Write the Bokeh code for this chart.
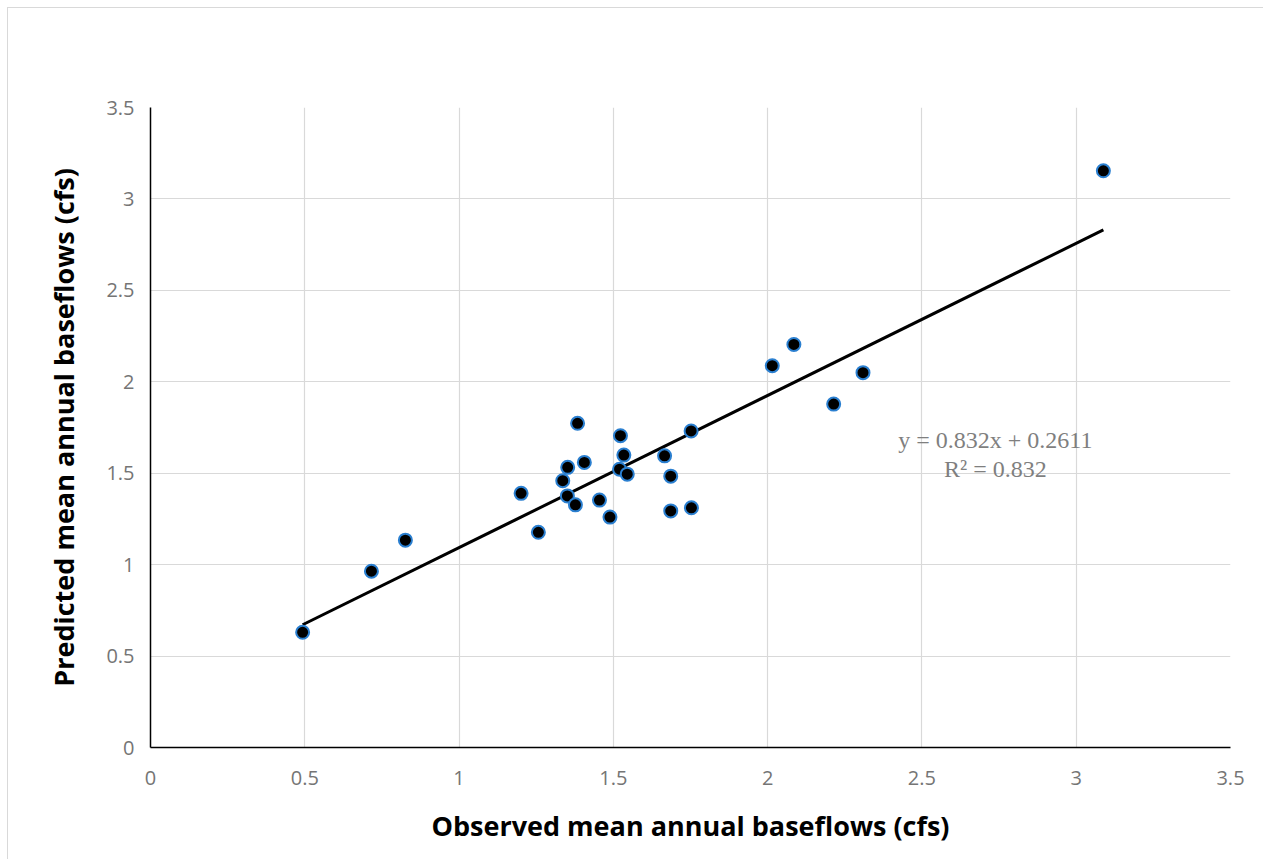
from bokeh.plotting import figure
from bokeh.models import Label, FixedTicker
from bokeh.embed import file_html
from bokeh.resources import INLINE

# Data
observed = [0.493, 0.716, 0.826, 1.201, 1.257, 1.384, 1.523, 1.534, 1.666, 1.752,
            1.352, 1.406, 1.336, 1.520, 1.545, 1.686, 1.351, 1.377, 1.455, 1.489,
            1.686, 1.753, 2.015, 2.085, 2.214, 2.309, 3.088]
predicted = [0.630, 0.964, 1.134, 1.390, 1.177, 1.773, 1.705, 1.599, 1.595, 1.731,
             1.532, 1.559, 1.459, 1.522, 1.495, 1.484, 1.376, 1.327, 1.353, 1.260,
             1.294, 1.311, 2.088, 2.204, 1.878, 2.050, 3.154]
slope = 0.832
intercept = 0.2611
r2 = 0.832
ticks = [0, 0.5, 1, 1.5, 2, 2.5, 3, 3.5]
tick_labels = ["0", "0.5", "1", "1.5", "2", "2.5", "3", "3.5"]

W, H = 1256, 852
p = figure(width=W, height=H, x_range=(0, 3.5), y_range=(0, 3.5),
           output_backend="svg", toolbar_location=None,
           min_border_left=142, min_border_right=34, min_border_top=99, min_border_bottom=113)
p.styles = {"margin-left": "7px", "margin-top": "7px",
            "border-left": "1px solid #d9d9d9", "border-top": "1px solid #d9d9d9"}
p.outline_line_color = None
p.background_fill_color = "white"
p.border_fill_color = "white"

for ax, lab in ((p.xaxis[0], "Observed mean annual baseflows (cfs)"),
                (p.yaxis[0], "Predicted mean annual baseflows (cfs)")):
    ax.ticker = FixedTicker(ticks=ticks)
    ax.major_label_overrides = {t: l for t, l in zip(ticks, tick_labels)}
    ax.major_tick_line_color = None
    ax.minor_tick_line_color = None
    ax.axis_line_color = "black"
    ax.axis_line_width = 1.5
    ax.major_label_text_font = "Open Sans"
    ax.major_label_text_font_size = "20px"
    ax.major_label_text_color = "#757575"
    ax.axis_label = lab
    ax.axis_label_text_font = "Open Sans"
    ax.axis_label_text_font_style = "bold"
    ax.axis_label_text_font_size = "27px"
    ax.axis_label_text_color = "black"

p.xaxis.major_label_standoff = 17
p.xaxis.axis_label_standoff = 19
p.yaxis.major_label_standoff = 10
p.yaxis.axis_label_standoff = 21

p.xgrid.ticker = FixedTicker(ticks=ticks)
p.ygrid.ticker = FixedTicker(ticks=ticks)
p.grid.grid_line_color = "#d9d9d9"
p.grid.grid_line_width = 1.2

# trendline
x0, x1 = min(observed), max(observed)
p.line([x0, x1], [slope * x0 + intercept, slope * x1 + intercept],
       line_color="black", line_width=3)

p.scatter(observed, predicted, size=13, fill_color="black",
          line_color="#2a7fd0", line_width=2)

p.add_layout(Label(x=2.738, y=1.68, text=f"y = {slope}x + {intercept}",
                   text_font="Liberation Serif", text_font_size="24px",
                   text_color="#7f7f7f", text_align="center", text_baseline="middle"))
p.add_layout(Label(x=2.738, y=1.525, text=f"R² = {r2}",
                   text_font="Liberation Serif", text_font_size="24px",
                   text_color="#7f7f7f", text_align="center", text_baseline="middle"))

open("out.html", "w").write(file_html(p, INLINE))
